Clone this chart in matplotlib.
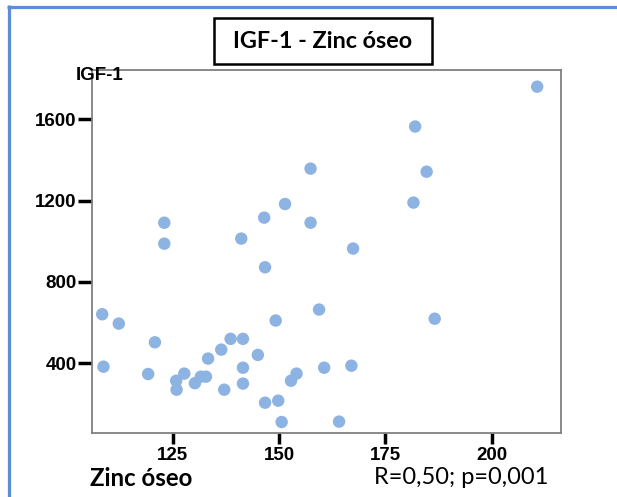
import matplotlib
matplotlib.use("Agg")
import matplotlib.pyplot as plt
from matplotlib.patches import Rectangle
from matplotlib.lines import Line2D

# Bone zinc vs IGF-1 measurements
zinc_oseo = [210.7, 182.0, 184.7, 181.6, 157.4, 151.4, 146.5, 157.4, 123.0, 123.0,
             141.1, 167.4, 146.7, 108.4, 112.3, 120.8, 108.7, 119.2, 125.8, 125.9,
             127.7, 130.2, 131.6, 132.8, 133.3, 136.4, 137.1, 138.6, 141.5, 141.5,
             141.5, 145.0, 146.7, 149.2, 149.8, 150.6, 152.8, 154.1, 159.4, 160.6,
             164.1, 167.0, 186.6]
igf1 = [1760, 1564, 1342, 1190, 1357, 1183, 1116, 1091, 1091, 988,
        1013, 964, 872, 641, 595, 503, 383, 347, 314, 270,
        349, 302, 334, 334, 423, 467, 270, 520, 520, 378,
        300, 441, 206, 610, 216, 111, 314, 349, 664, 378,
        113, 388, 619]

x_ticks = [125, 150, 175, 200]
y_ticks = [400, 800, 1200, 1600]

title = "IGF-1 - Zinc óseo"
x_label = "Zinc óseo"
y_label = "IGF-1"
stats_text = "R=0,50; p=0,001"

W, H = 617, 497
DPI = 100
fig = plt.figure(figsize=(W / DPI, H / DPI), dpi=DPI)


def fx(px):
    return px / W


def fy(py):
    return 1 - py / H


# Plot area
left, right, top, bottom = 92, 561, 70, 433
ax = fig.add_axes([fx(left), fy(bottom), (right - left) / W, (bottom - top) / H])
ax.scatter(zinc_oseo, igf1, s=80, color="#8DB3E2", edgecolors="none", zorder=3)
ax.set_xlim(106.0, 216.3)
ax.set_ylim(57, 1842)
ax.set_xticks(x_ticks)
ax.set_yticks(y_ticks)
for sp in ax.spines.values():
    sp.set_color("#808080")
    sp.set_linewidth(1.3)
ax.tick_params(axis="both", length=8, width=2.5, color="black", pad=2)
ax.tick_params(axis="y", length=10, pad=1)
for lab in ax.get_xticklabels() + ax.get_yticklabels():
    lab.set_fontfamily("Liberation Sans")
    lab.set_fontweight("bold")
    lab.set_fontsize(13.5)

# Outer frame lines (top and left)
frame_col = "#5B8ED6"
fig.add_artist(Line2D([fx(7), 1.0], [fy(6.5), fy(6.5)], color=frame_col, lw=2.3,
                      transform=fig.transFigure, solid_capstyle="butt"))
fig.add_artist(Line2D([fx(8.5), fx(8.5)], [fy(5), 0.0], color=frame_col, lw=2.3,
                      transform=fig.transFigure, solid_capstyle="butt"))

# Title in a box
fig.add_artist(Rectangle((fx(214), fy(64)), (432 - 214) / W, (64 - 18) / H,
                         transform=fig.transFigure, fill=False, edgecolor="black",
                         lw=1.8))
fig.text(fx(323), fy(42), title, ha="center", va="center", fontsize=16.8,
         fontweight="bold", family="Lato")

# Axis labels
fig.text(fx(100), fy(76), y_label, ha="center", va="center", fontsize=13.5,
         fontweight="bold", family="Liberation Sans")
fig.text(fx(90), fy(478), x_label, ha="left", va="center", fontsize=17.3,
         fontweight="bold", family="Lato")
fig.text(fx(548), fy(478), stats_text, ha="right", va="center", fontsize=17,
         family="Lato")

fig.savefig("out.png", dpi=DPI)
